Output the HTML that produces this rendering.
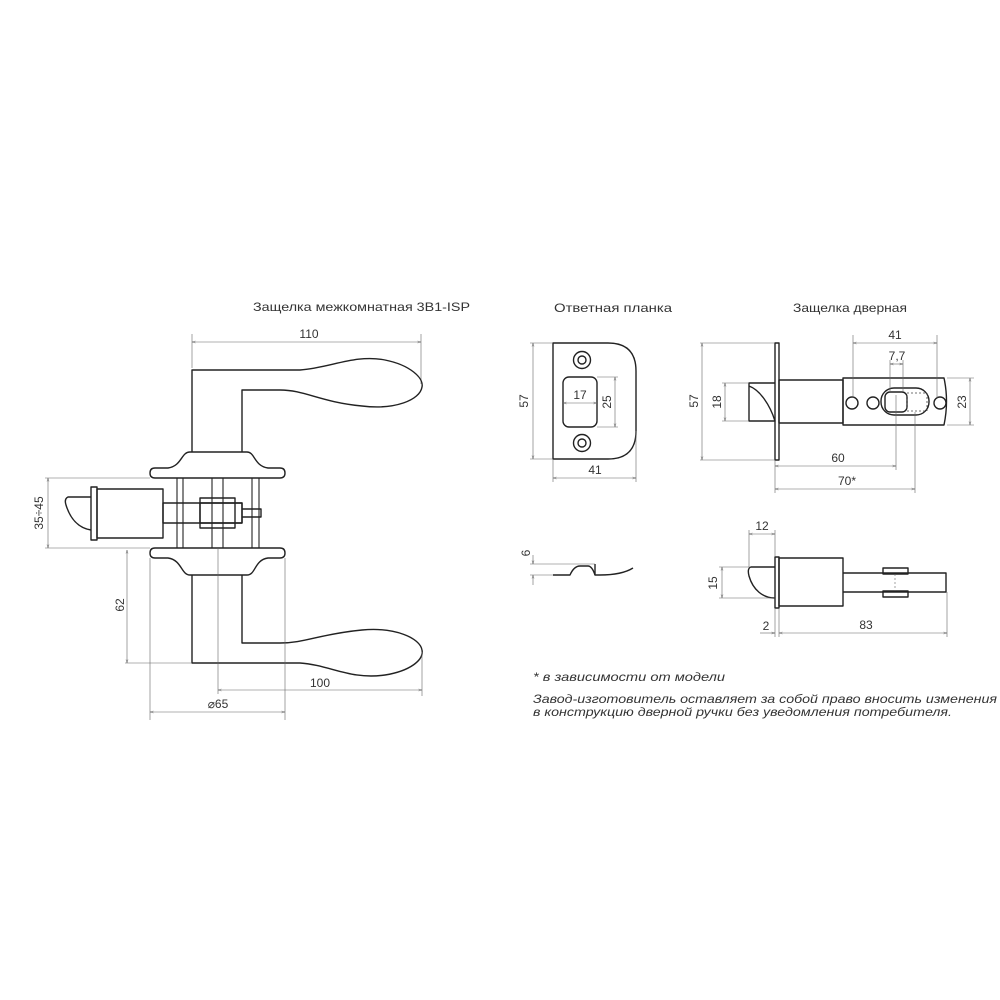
<!DOCTYPE html>
<html><head><meta charset="utf-8"><style>
html,body{margin:0;padding:0;background:#fff}
svg{display:block}
text{font-family:"Liberation Sans","DejaVu Sans",sans-serif;fill:#333}
.m{fill:none;stroke:#222;stroke-width:1.4;stroke-linejoin:round}
.d{fill:none;stroke:#666;stroke-width:0.6}
.t{font-size:12px}
.n{font-size:12px;text-anchor:middle}
</style></head><body>
<svg width="1000" height="1000" viewBox="0 0 1000 1000" xmlns="http://www.w3.org/2000/svg">
<defs>
<marker id="a" viewBox="0 0 10 10" refX="10" refY="5" markerWidth="6" markerHeight="6" orient="auto-start-reverse"><path d="M0,2 L10,5 L0,8" fill="none" stroke="#666" stroke-width="1.2"/></marker>
</defs>

<!-- LEFT: Handle set -->
<text x="253" y="311" class="t" textLength="217" lengthAdjust="spacingAndGlyphs">Защелка межкомнатная 3В1-ISP</text>
<!-- dim 110 -->
<line class="d" x1="192" y1="334" x2="192" y2="368"/>
<line class="d" x1="421" y1="334" x2="421" y2="384"/>
<line class="d" x1="192" y1="342" x2="421" y2="342" marker-start="url(#a)" marker-end="url(#a)"/>
<text x="309" y="338" class="n">110</text>
<!-- upper handle -->
<path class="m" d="M192,452 L192,370 L300,370 C330,368 355,354 385,360 C410,365 424,378 422,387 C420,400 395,410 362,406 C320,402 305,390 280,390 L242,390 L242,452"/>
<!-- upper rose & flange -->
<path class="m" d="M190,452 L247,452 C255,452 254,466 268,468 L280,468 Q285,468 285,473 Q285,478 280,478 L155,478 Q150,478 150,473 Q150,468 155,468 L168,468 C182,466 181,452 190,452Z"/>
<!-- lower flange & rose -->
<path class="m" d="M155,548 L280,548 Q285,548 285,553 Q285,558 280,558 L268,558 C254,560 256,575 247,575 L190,575 C181,575 182,560 168,558 L155,558 Q150,558 150,553 Q150,548 155,548Z"/>
<!-- rods -->
<g class="m" style="stroke-width:1.1">
<line x1="177" y1="478" x2="177" y2="548"/><line x1="183" y1="478" x2="183" y2="548"/>
<line x1="212" y1="478" x2="212" y2="548"/><line x1="223" y1="478" x2="223" y2="548"/>
<line x1="252" y1="478" x2="252" y2="548"/><line x1="259" y1="478" x2="259" y2="548"/>
</g>
<!-- lower handle -->
<path class="m" d="M192,575 L192,663 L300,663 C330,665 350,680 385,675 C410,671 424,660 422,650 C420,638 395,627 362,630 C320,634 305,643 280,643 L242,643 L242,575"/>
<!-- latch in left view -->
<rect class="m" x="97" y="489" width="66" height="49" fill="#fff"/>
<rect class="m" x="91" y="487" width="6" height="53" fill="#fff"/>
<path class="m" d="M91,497 L68,497 Q64,499 66,505 C70,518 78,528 91,530"/>
<rect class="m" x="163" y="503" width="79" height="20" fill="#fff"/>
<rect class="m" x="200" y="498" width="35" height="30" fill="#fff"/>
<rect class="m" x="200" y="503" width="42" height="20" fill="none"/>
<path class="m" d="M242,509 L261,509 L261,517 L242,517"/>
<!-- dim 35÷45 -->
<line class="d" x1="45" y1="478" x2="150" y2="478"/>
<line class="d" x1="45" y1="548" x2="150" y2="548"/>
<line class="d" x1="48" y1="478" x2="48" y2="548" marker-start="url(#a)" marker-end="url(#a)"/>
<text transform="translate(43,513) rotate(-90)" class="n">35÷45</text>
<!-- dim 62 -->
<line class="d" x1="125" y1="663" x2="192" y2="663"/>
<line class="d" x1="127" y1="550" x2="127" y2="663" marker-start="url(#a)" marker-end="url(#a)"/>
<text transform="translate(124,605) rotate(-90)" class="n">62</text>
<!-- dim 100 -->
<line class="d" x1="218" y1="548" x2="218" y2="694"/>
<line class="d" x1="422" y1="652" x2="422" y2="696"/>
<line class="d" x1="218" y1="690" x2="422" y2="690" marker-start="url(#a)" marker-end="url(#a)"/>
<text x="320" y="687" class="n">100</text>
<!-- dim 65 -->
<line class="d" x1="150" y1="558" x2="150" y2="720"/>
<line class="d" x1="285" y1="558" x2="285" y2="720"/>
<line class="d" x1="150" y1="712" x2="285" y2="712" marker-start="url(#a)" marker-end="url(#a)"/>
<text x="218" y="708" class="n">⌀65</text>

<!-- STRIKE PLATE -->
<text x="613" y="312" class="n" textLength="118" lengthAdjust="spacingAndGlyphs">Ответная планка</text>
<path class="m" d="M553,343 L608,343 Q636,343 636,371 L636,431 Q636,459 608,459 L553,459 Z"/>
<circle class="m" cx="582" cy="360" r="8.5"/><circle class="m" cx="582" cy="360" r="4"/>
<circle class="m" cx="582" cy="443" r="8.5"/><circle class="m" cx="582" cy="443" r="4"/>
<rect class="m" x="563" y="377" width="34" height="50" rx="6"/>
<line class="d" x1="563" y1="403" x2="597" y2="403" marker-start="url(#a)" marker-end="url(#a)"/>
<text x="580" y="399" class="n">17</text>
<line class="d" x1="597" y1="377" x2="618" y2="377"/><line class="d" x1="597" y1="427" x2="618" y2="427"/>
<line class="d" x1="615" y1="377" x2="615" y2="427" marker-start="url(#a)" marker-end="url(#a)"/>
<text transform="translate(611,402) rotate(-90)" class="n">25</text>
<line class="d" x1="530" y1="343" x2="553" y2="343"/><line class="d" x1="530" y1="459" x2="553" y2="459"/>
<line class="d" x1="533" y1="343" x2="533" y2="459" marker-start="url(#a)" marker-end="url(#a)"/>
<text transform="translate(528,401) rotate(-90)" class="n">57</text>
<line class="d" x1="553" y1="459" x2="553" y2="482"/><line class="d" x1="636" y1="431" x2="636" y2="482"/>
<line class="d" x1="553" y1="478" x2="636" y2="478" marker-start="url(#a)" marker-end="url(#a)"/>
<text x="595" y="474" class="n">41</text>
<!-- side view -->
<path class="m" d="M553,575 L570,575 Q574,566 580,566 L588,566 Q592,566 595,575 L600,575 C615,575 625,573 633,568"/>
<line class="m" x1="595" y1="564" x2="595" y2="575"/>
<line class="d" x1="530" y1="564" x2="595" y2="564"/><line class="d" x1="530" y1="575" x2="553" y2="575"/>
<line class="d" x1="533" y1="555" x2="533" y2="564" marker-end="url(#a)"/>
<line class="d" x1="533" y1="585" x2="533" y2="575" marker-end="url(#a)"/>
<text transform="translate(530,553) rotate(-90)" class="n">6</text>

<!-- LATCH TOP -->
<text x="850" y="312" class="n" textLength="114" lengthAdjust="spacingAndGlyphs">Защелка дверная</text>
<rect class="m" x="775" y="343" width="4" height="117"/>
<rect class="m" x="779" y="380" width="64" height="43"/>
<path class="m" d="M843,378 L944,378 Q949,401 944,425 L843,425 Z"/>
<path class="m" d="M775,383 L749,383 L749,421 L775,421 C770,405 760,390 749,386"/>
<circle class="m" cx="852" cy="403" r="6"/><circle class="m" cx="873" cy="403" r="6"/><circle class="m" cx="940" cy="403" r="6"/>
<rect class="m" x="881" y="388" width="48" height="27" rx="13"/>
<rect class="m" x="885" y="392" width="22" height="20" rx="5"/>
<rect x="907" y="393" width="20" height="18" fill="none" stroke="#444" stroke-width="0.8" stroke-dasharray="2,2"/>
<!-- dims -->
<line class="d" x1="853" y1="335" x2="853" y2="398"/><line class="d" x1="937" y1="335" x2="937" y2="398"/>
<line class="d" x1="853" y1="343" x2="937" y2="343" marker-start="url(#a)" marker-end="url(#a)"/>
<text x="895" y="339" class="n">41</text>
<line class="d" x1="890" y1="360" x2="890" y2="392"/><line class="d" x1="903" y1="360" x2="903" y2="392"/>
<line class="d" x1="890" y1="364" x2="903" y2="364" marker-start="url(#a)" marker-end="url(#a)"/>
<text x="897" y="360" class="n">7,7</text>
<line class="d" x1="700" y1="343" x2="775" y2="343"/><line class="d" x1="700" y1="460" x2="775" y2="460"/>
<line class="d" x1="702" y1="343" x2="702" y2="460" marker-start="url(#a)" marker-end="url(#a)"/>
<text transform="translate(698,401) rotate(-90)" class="n">57</text>
<line class="d" x1="722" y1="383" x2="749" y2="383"/><line class="d" x1="722" y1="421" x2="749" y2="421"/>
<line class="d" x1="725" y1="383" x2="725" y2="421" marker-start="url(#a)" marker-end="url(#a)"/>
<text transform="translate(721,402) rotate(-90)" class="n">18</text>
<line class="d" x1="947" y1="378" x2="974" y2="378"/><line class="d" x1="947" y1="425" x2="974" y2="425"/>
<line class="d" x1="970" y1="378" x2="970" y2="425" marker-start="url(#a)" marker-end="url(#a)"/>
<text transform="translate(966,402) rotate(-90)" class="n">23</text>
<line class="d" x1="775" y1="460" x2="775" y2="493"/>
<line class="d" x1="896" y1="395" x2="896" y2="470"/>
<line class="d" x1="915" y1="412" x2="915" y2="493"/>
<line class="d" x1="775" y1="466" x2="896" y2="466" marker-start="url(#a)" marker-end="url(#a)"/>
<text x="838" y="462" class="n">60</text>
<line class="d" x1="775" y1="489" x2="915" y2="489" marker-start="url(#a)" marker-end="url(#a)"/>
<text x="847" y="485" class="n">70*</text>

<!-- LATCH SIDE -->
<rect class="m" x="775" y="557" width="4" height="51"/>
<rect class="m" x="779" y="558" width="64" height="48"/>
<path class="m" d="M843,573 L946,573 L946,592 L843,592"/>
<rect class="m" x="883" y="568" width="25" height="6"/>
<rect class="m" x="883" y="591" width="25" height="6"/>
<line x1="895" y1="574" x2="895" y2="591" stroke="#666" stroke-width="0.6" stroke-dasharray="2,2"/>
<path class="m" d="M775,567 L751,567 Q747,568 749,576 C753,590 763,598 775,598"/>
<line class="d" x1="749" y1="530" x2="749" y2="567"/><line class="d" x1="775" y1="530" x2="775" y2="557"/>
<line class="d" x1="749" y1="534" x2="775" y2="534" marker-start="url(#a)" marker-end="url(#a)"/>
<text x="762" y="530" class="n">12</text>
<line class="d" x1="719" y1="567" x2="749" y2="567"/><line class="d" x1="719" y1="598" x2="775" y2="598"/>
<line class="d" x1="722" y1="567" x2="722" y2="598" marker-start="url(#a)" marker-end="url(#a)"/>
<text transform="translate(717,583) rotate(-90)" class="n">15</text>
<line class="d" x1="775" y1="608" x2="775" y2="637"/><line class="d" x1="779" y1="608" x2="779" y2="637"/>
<line class="d" x1="947" y1="592" x2="947" y2="637"/>
<line class="d" x1="760" y1="633" x2="775" y2="633" marker-end="url(#a)"/>
<text x="766" y="630" class="n">2</text>
<line class="d" x1="779" y1="633" x2="947" y2="633" marker-start="url(#a)" marker-end="url(#a)"/>
<text x="866" y="629" class="n">83</text>

<!-- notes -->
<text x="533" y="681" class="t" textLength="192" lengthAdjust="spacingAndGlyphs" font-style="italic">* в зависимости от модели</text>
<text x="533" y="703" class="t" textLength="464" lengthAdjust="spacingAndGlyphs" font-style="italic">Завод-изготовитель оставляет за собой право вносить изменения</text>
<text x="533" y="716" class="t" textLength="419" lengthAdjust="spacingAndGlyphs" font-style="italic">в конструкцию дверной ручки без уведомления потребителя.</text>
</svg>
</body></html>
